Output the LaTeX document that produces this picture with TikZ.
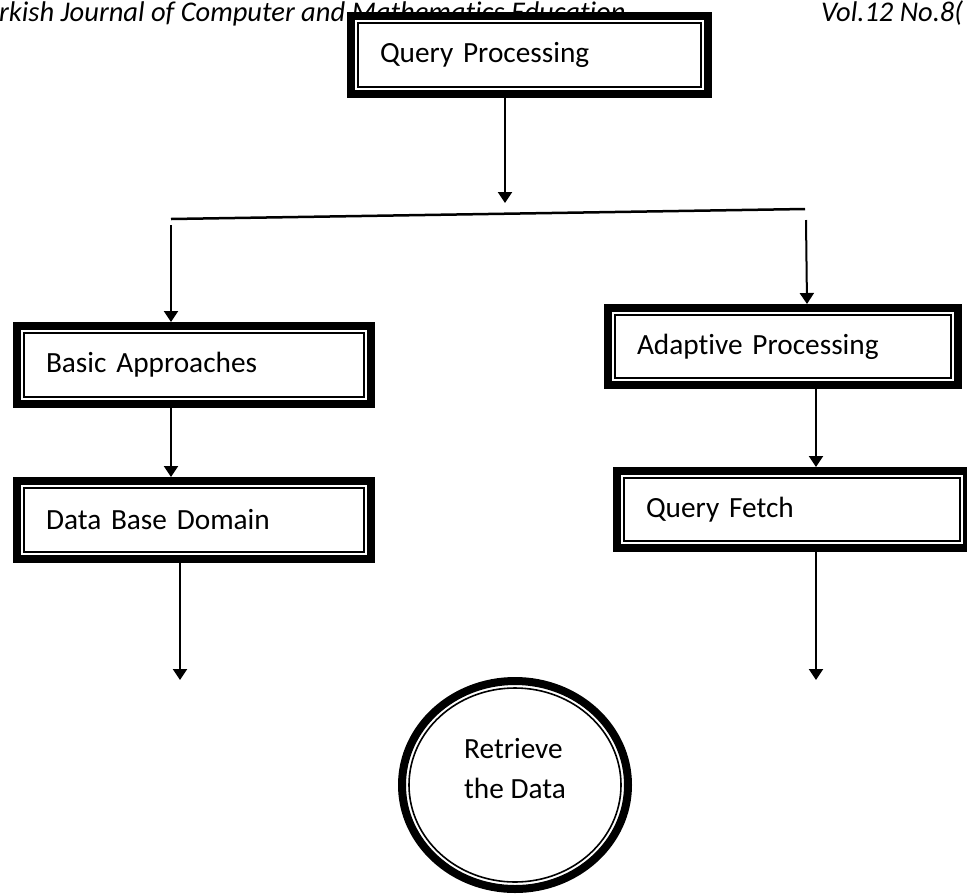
\documentclass[tikz,border=0pt]{standalone}
\usepackage{fontspec}
\setmainfont{Carlito}[Ligatures=NoCommon]
\usetikzlibrary{arrows.meta,shapes.geometric}

\tikzset{
  boxfont/.style={font=\fontsize{29.3}{40}\selectfont},
  procbox/.style={draw, line width=8pt, fill=white, rectangle, minimum height=78pt,
    inner xsep=29pt, align=left, boxfont,
    path picture={\draw[line width=1.6pt]
      ([shift={(7pt,-7pt)}]path picture bounding box.north west) rectangle
      ([shift={(-7pt,7pt)}]path picture bounding box.south east);}},
  endoval/.style={draw, line width=8pt, fill=white, ellipse, minimum width=226pt,
    minimum height=208pt, align=left, boxfont, text depth=33pt,
    path picture={\draw[line width=1.6pt] (path picture bounding box.center)
      ellipse [x radius=106pt, y radius=97pt];}},
  conn/.style={line width=2pt, -{Triangle[length=11pt,width=14pt]}},
  header/.style={anchor=base west, inner sep=0pt, font=\fontsize{28.5}{34}\selectfont\itshape}
}

\begin{document}
\begin{tikzpicture}[x=1pt, y=1pt]
  \useasboundingbox (0,0) rectangle (967,-895);
  \node[header] at (-1,-21) (jtitle) {rkish Journal of Computer and Mathematics Education};
  \node[header] at (821,-21) (jvol) {Vol.12 No.8(};

  \node[procbox, text width=299pt] at (529.5,-55) (qp) {Query Processing};
  \coordinate (fork) at (505,-203);
  \coordinate (forkL) at (171,-219);
  \coordinate (forkR) at (805,-209);
  \coordinate (dropL) at (171,-225);
  \coordinate (dropR) at (806,-220);

  \node[procbox, text width=296pt] at (194,-365) (basic) {Basic Approaches};
  \node[procbox, text width=296pt] at (194,-520) (dbdom) {Data Base Domain};
  \node[procbox, text width=292pt, minimum height=77pt] at (783,-346.5) (adapt) {Adaptive Processing};
  \node[procbox, text width=292pt, minimum height=77pt] at (792,-509.5) (fetch) {Query Fetch};

  \node[endoval] at (515,-785) (ret) {Retrieve\\the Data};
  \coordinate (endL) at (180,-680);
  \coordinate (endR) at (816,-680);

  % bars under the lower boxes
  \draw[line width=2.5pt] ([xshift=-92pt,yshift=5pt]dbdom.south) -- ([xshift=61pt,yshift=5pt]dbdom.south);
  \draw[line width=2.5pt] ([xshift=-53pt,yshift=5pt]fetch.south) -- ([xshift=77pt,yshift=5pt]fetch.south);

  \draw[conn] ([xshift=-24.5pt]qp.south) -- (fork);
  \draw[line width=2.5pt] (forkL) -- (forkR);
  \draw[conn] (dropL) -- ([xshift=-23pt]basic.north);
  \draw[conn] (dropR) -- ([xshift=24pt]adapt.north);
  \draw[conn] ([xshift=-23pt]basic.south) -- ([xshift=-23pt]dbdom.north);
  \draw[conn] ([xshift=33pt]adapt.south) -- ([xshift=24pt]fetch.north);
  \draw[conn] ([xshift=-14pt]dbdom.south) -- (endL);
  \draw[conn] ([xshift=24pt]fetch.south) -- (endR);
\end{tikzpicture}
\end{document}
